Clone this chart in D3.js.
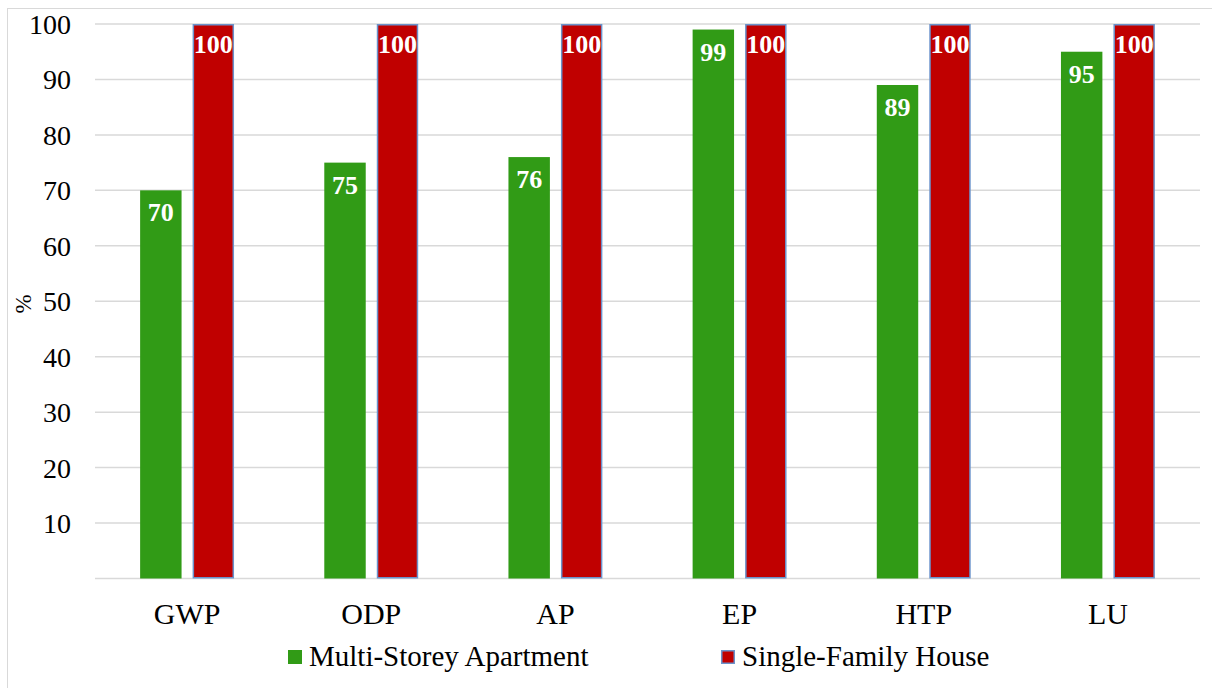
<!DOCTYPE html>
<html>
<head>
<meta charset="utf-8">
<script src="https://cdn.jsdelivr.net/npm/d3@7/dist/d3.min.js"></script>
<style>
  html, body { margin: 0; padding: 0; background: #fff; }
  svg text { font-family: 'Liberation Serif', 'Times New Roman', serif; }
</style>
</head>
<body>
<svg id="chart" width="1212" height="688"></svg>
<script>
// Impact categories and relative scores (%)
const categories = ["GWP", "ODP", "AP", "EP", "HTP", "LU"];
const apartmentValues = [70, 75, 76, 99, 89, 95];
const houseValues = [100, 100, 100, 100, 100, 100];
const seriesNames = ["Multi-Storey Apartment", "Single-Family House"];
const yTicks = [10, 20, 30, 40, 50, 60, 70, 80, 90, 100];

const W = 1212, H = 688;
const FONT = "'Liberation Serif', 'Times New Roman', serif";
const plot = { left: 95, right: 1200, top: 24, bottom: 578.5 };
const colors = { apt: "#319b16", house: "#c00000", houseEdge: "#6b93cc", grid: "#d9d9d9" };

const svg = d3.select("#chart");

// Chart frame
svg.append("rect")
  .attr("x", 7.5).attr("y", 8.5)
  .attr("width", W + 10).attr("height", H + 10)
  .attr("fill", "#fff").attr("stroke", colors.grid).attr("stroke-width", 1);

const x = d3.scaleBand().domain(categories).range([plot.left, plot.right]);
const y = d3.scaleLinear().domain([0, 100]).range([plot.bottom, plot.top]);

// Gridlines (including baseline)
svg.append("g").selectAll("line")
  .data([0].concat(yTicks))
  .join("line")
  .attr("x1", plot.left).attr("x2", plot.right)
  .attr("y1", d => y(d)).attr("y2", d => y(d))
  .attr("stroke", colors.grid).attr("stroke-width", 1.5);

// Y axis tick labels
const yAxis = d3.axisLeft(y).tickValues(yTicks).tickSize(0).tickPadding(0);
const yg = svg.append("g").attr("transform", "translate(71,0)").call(yAxis);
yg.select(".domain").remove();
yg.selectAll("text")
  .style("font-family", FONT)
  .style("font-size", "28px").attr("fill", "#000")
  .attr("dy", "0.34em");

// Y axis title
svg.append("text")
  .attr("transform", "translate(31,304) rotate(-90)")
  .attr("text-anchor", "middle")
  .style("font-family", FONT)
  .style("font-size", "23px").attr("fill", "#000")
  .text("%");

// X axis category labels
const xAxis = d3.axisBottom(x).tickSize(0).tickPadding(0);
const xg = svg.append("g").attr("transform", `translate(0,${plot.bottom})`).call(xAxis);
xg.select(".domain").remove();
xg.selectAll("text")
  .style("font-family", FONT)
  .style("font-size", "30px").attr("fill", "#000")
  .attr("y", 45).attr("dy", 0);

// Bar geometry within each band
const bw = x.bandwidth();
const barW = bw * 0.225;
const gap = bw * 0.06;
const aptX = d => x(d) + bw / 2 - gap / 2 - barW;
const houseX = d => x(d) + bw / 2 + gap / 2;

const data = categories.map((c, i) => ({ cat: c, apt: apartmentValues[i], house: houseValues[i] }));

// Apartment bars
svg.append("g").selectAll("rect")
  .data(data).join("rect")
  .attr("x", d => aptX(d.cat))
  .attr("y", d => y(d.apt))
  .attr("width", barW)
  .attr("height", d => y(0) - y(d.apt))
  .attr("fill", colors.apt);

// House bars
svg.append("g").selectAll("rect")
  .data(data).join("rect")
  .attr("x", d => houseX(d.cat) + 0.75)
  .attr("y", d => y(d.house) + 0.75)
  .attr("width", barW - 1.5)
  .attr("height", d => y(0) - y(d.house) - 1.5)
  .attr("fill", colors.house)
  .attr("stroke", colors.houseEdge).attr("stroke-width", 1.5);

// Value labels inside bar ends
const labelStyle = sel => sel
  .attr("text-anchor", "middle")
  .style("font-family", FONT)
  .style("font-size", "26px").style("font-weight", "bold")
  .attr("fill", "#fff");

svg.append("g").selectAll("text")
  .data(data).join("text")
  .call(labelStyle)
  .attr("x", d => aptX(d.cat) + barW / 2)
  .attr("y", d => y(d.apt) + 31)
  .text(d => d.apt);

svg.append("g").selectAll("text")
  .data(data).join("text")
  .call(labelStyle)
  .attr("x", d => houseX(d.cat) + barW / 2)
  .attr("y", d => y(d.house) + 29)
  .text(d => d.house);

// Legend
const legend = svg.append("g");
const legendItems = [
  { name: seriesNames[0], mx: 288, tx: 309, fill: colors.apt, edge: null },
  { name: seriesNames[1], mx: 721, tx: 742, fill: colors.house, edge: colors.houseEdge }
];
legendItems.forEach(it => {
  legend.append("rect")
    .attr("x", it.mx + (it.edge ? 0.75 : 0)).attr("y", 650 + (it.edge ? 0.75 : 0))
    .attr("width", 14 - (it.edge ? 1.5 : 0)).attr("height", 14 - (it.edge ? 1.5 : 0))
    .attr("fill", it.fill)
    .attr("stroke", it.edge || "none").attr("stroke-width", it.edge ? 1.5 : 0);
  legend.append("text")
    .attr("x", it.tx).attr("y", 666)
    .style("font-family", FONT)
    .style("font-size", "29px").attr("fill", "#000")
    .text(it.name);
});
</script>
</body>
</html>
